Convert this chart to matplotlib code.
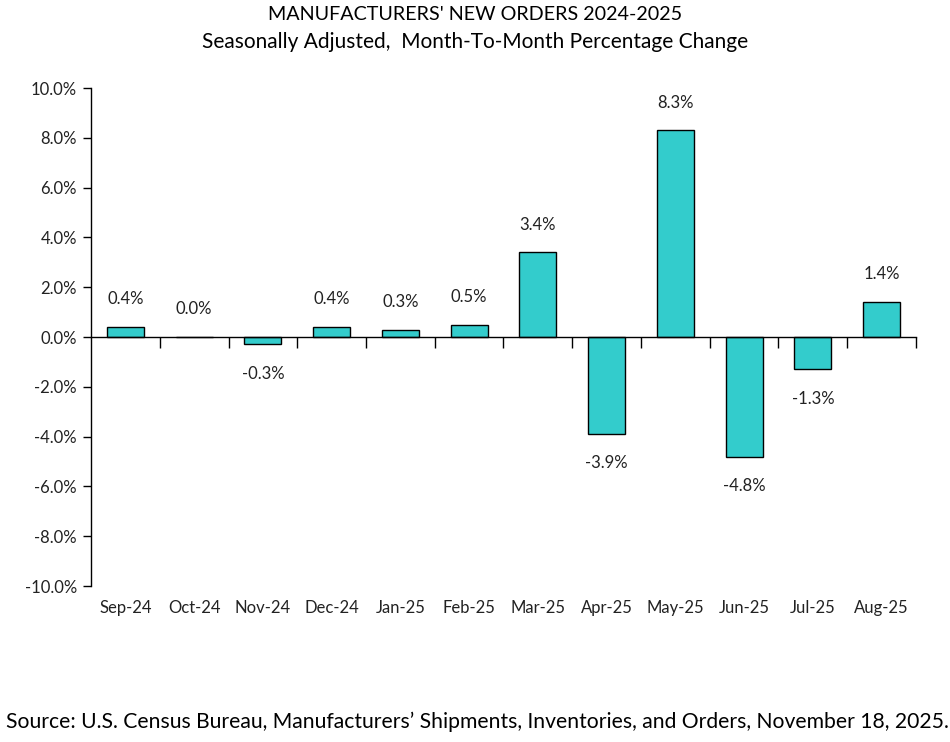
import matplotlib.pyplot as plt
from matplotlib.ticker import FuncFormatter
import matplotlib.transforms as mtransforms

plt.rcParams["font.family"] = ["Lato", "DejaVu Sans"]

months = ["Sep-24", "Oct-24", "Nov-24", "Dec-24", "Jan-25", "Feb-25",
          "Mar-25", "Apr-25", "May-25", "Jun-25", "Jul-25", "Aug-25"]
pct_change = [0.4, 0.0, -0.3, 0.4, 0.3, 0.5, 3.4, -3.9, 8.3, -4.8, -1.3, 1.4]

BAR_COLOR = "#33CCCC"
TEXT_COLOR = "#222222"

fig = plt.figure(figsize=(9.5, 7.42), dpi=100)
ax = fig.add_axes([0.0958, 0.2102, 0.8684, 0.6712])

xs = list(range(len(months)))
ax.bar(xs, pct_change, width=0.54, color=BAR_COLOR, edgecolor="black", linewidth=1)

ax.set_xlim(-0.5, len(months) - 0.5)
ax.set_ylim(-10, 10)
ax.set_yticks([v for v in range(-10, 11, 2)])
ax.yaxis.set_major_formatter(FuncFormatter(lambda v, _: f"{v:.1f}%"))
ax.tick_params(axis="y", direction="out", length=6, width=1, labelsize=12,
               colors="black", labelcolor=TEXT_COLOR, pad=4)

# x axis sits at zero, ticks between categories
for side in ("top", "right"):
    ax.spines[side].set_visible(False)
ax.spines["bottom"].set_position(("data", 0))
ax.spines["left"].set_linewidth(1)
ax.spines["bottom"].set_linewidth(1)
ax.set_xticks([k + 0.5 for k in range(len(months))])
ax.set_xticklabels([])
ax.tick_params(axis="x", direction="out", length=8, width=1)

trans = mtransforms.blended_transform_factory(ax.transData, ax.transAxes)
for x, m in zip(xs, months):
    ax.text(x, -0.045, m, transform=trans, ha="center", va="center",
            fontsize=12, color=TEXT_COLOR)

for x, v in zip(xs, pct_change):
    off = 20 if v >= 0 else -21
    ax.annotate(f"{v:.1f}%", (x, v), xytext=(0, off), textcoords="offset points",
                ha="center", va="center", fontsize=12, color=TEXT_COLOR)

fig.text(0.5, 0.980, "MANUFACTURERS' NEW ORDERS 2024-2025", ha="center",
         va="center", fontsize=14.2, color="black")
fig.text(0.5, 0.944, "Seasonally Adjusted,  Month-To-Month Percentage Change",
         ha="center", va="center", fontsize=15, color="black")
fig.text(0.006, 0.027,
         "Source: U.S. Census Bureau, Manufacturers\u2019 Shipments, Inventories, and Orders, November 18, 2025.",
         ha="left", va="center", fontsize=15.2, color="black")

fig.savefig("out.png", dpi=100)
